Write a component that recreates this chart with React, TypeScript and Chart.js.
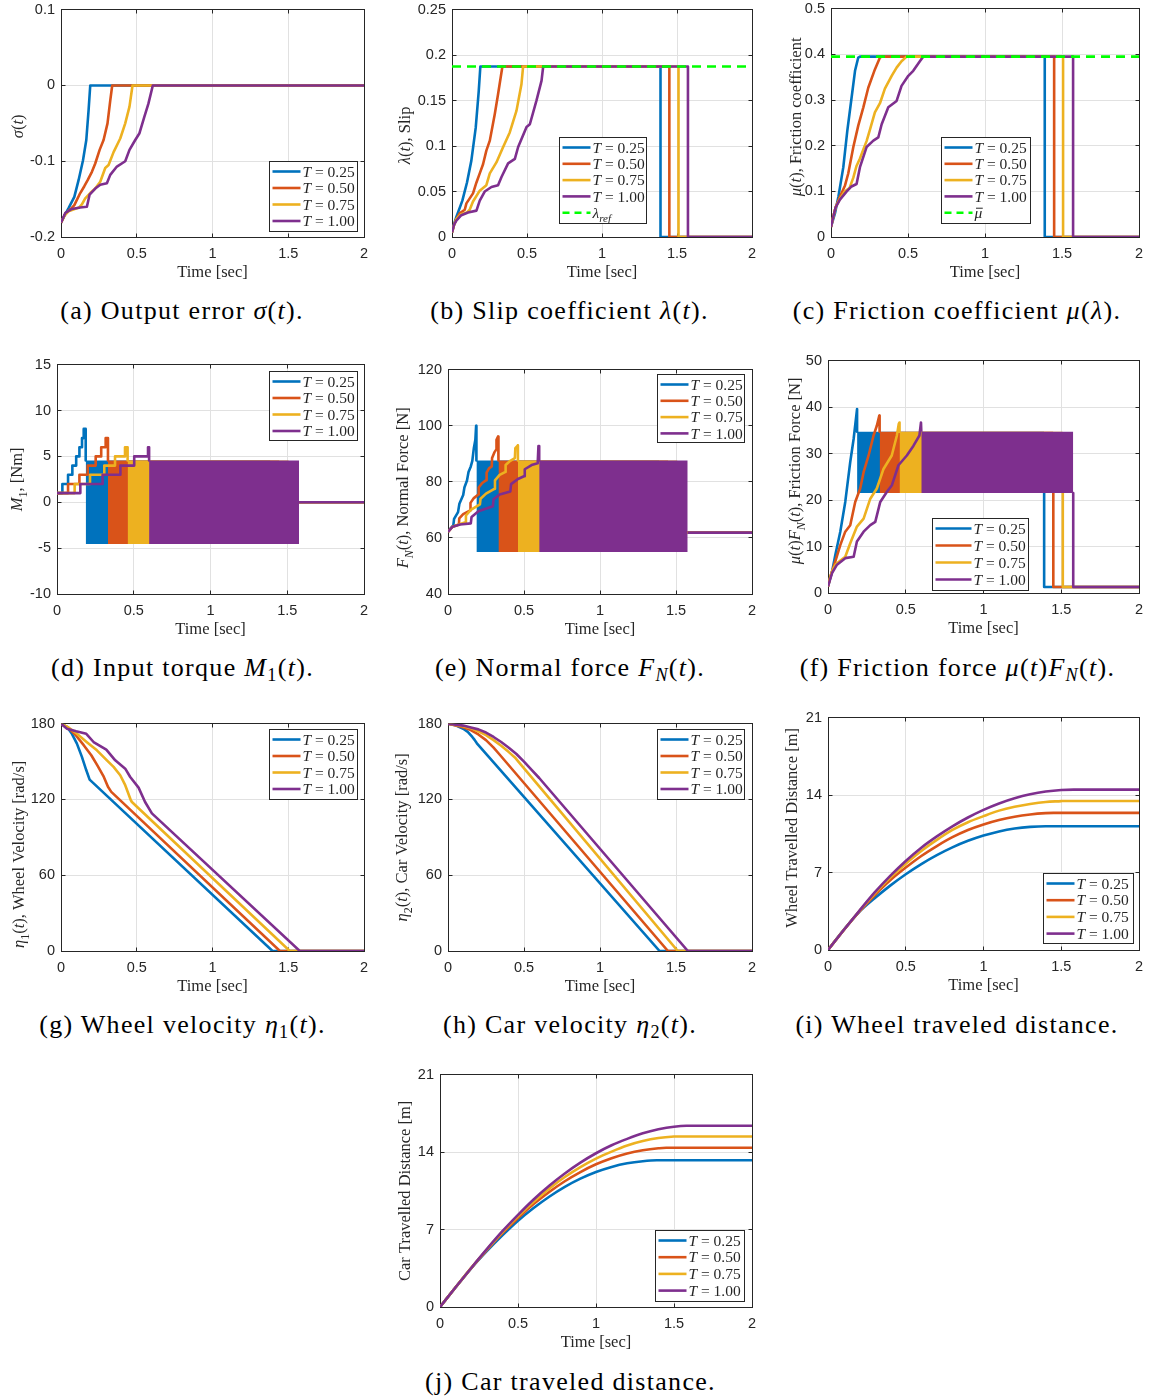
import React, { useEffect, useRef } from "react";
import { Chart, registerables } from "chart.js";

Chart.register(...registerables);

type Pt = [number, number | null];
type Seg = { t: string; it?: boolean; sub?: boolean; bar?: boolean };

// ---- colours -------------------------------------------------------------
const COLORS = ["#0072BD", "#D95319", "#EDB120", "#7E2F8E"];
const REF_COLOR = "#00FF00";
const AXIS_COLOR = "#262626";
const GRID_COLOR = "#E1E1E1";

// ---- shared axis data -----------------------------------------------------
const periodLabels = ["0.25", "0.50", "0.75", "1.00"];
const timeTicks = [0, 0.5, 1, 1.5, 2];
const timeTickLabels = ["0", "0.5", "1", "1.5", "2"];

// ---- (a) output error sigma(t) --------------------------------------------
const sigmaTicks = [-0.2, -0.1, 0, 0.1];
const sigmaTickLabels = ["-0.2", "-0.1", "0", "0.1"];
const sigmaT025: Pt[] = [[0, -0.181], [0.025, -0.171], [0.05, -0.162], [0.088, -0.147], [0.116, -0.125], [0.145, -0.099], [0.167, -0.072], [0.182, -0.033], [0.193, 0], [2, 0]];
const sigmaT050: Pt[] = [[0, -0.181], [0.025, -0.171], [0.05, -0.165], [0.07, -0.162], [0.088, -0.158], [0.127, -0.142], [0.154, -0.133], [0.176, -0.125], [0.204, -0.114], [0.226, -0.103], [0.255, -0.085], [0.281, -0.072], [0.307, -0.05], [0.325, -0.02], [0.338, 0], [2, 0]];
const sigmaT075: Pt[] = [[0, -0.181], [0.025, -0.171], [0.05, -0.166], [0.09, -0.163], [0.12, -0.161], [0.138, -0.157], [0.16, -0.149], [0.193, -0.142], [0.226, -0.136], [0.259, -0.127], [0.292, -0.109], [0.314, -0.105], [0.347, -0.088], [0.391, -0.07], [0.424, -0.05], [0.452, -0.028], [0.472, 0], [2, 0]];
const sigmaT100: Pt[] = [[0, -0.181], [0.029, -0.168], [0.072, -0.163], [0.127, -0.161], [0.171, -0.16], [0.189, -0.144], [0.226, -0.136], [0.259, -0.131], [0.303, -0.129], [0.325, -0.118], [0.369, -0.107], [0.424, -0.1], [0.452, -0.085], [0.49, -0.072], [0.518, -0.063], [0.549, -0.042], [0.577, -0.024], [0.606, 0], [2, 0]];

// ---- (b) slip lambda(t) ----------------------------------------------------
const slipTicks = [0, 0.05, 0.1, 0.15, 0.2, 0.25];
const slipTickLabels = ["0", "0.05", "0.1", "0.15", "0.2", "0.25"];
const slipRef = 0.1875;
const slipT025: Pt[] = [[0, 0.005], [0.015, 0.015], [0.029, 0.022], [0.069, 0.04], [0.1, 0.06], [0.129, 0.084], [0.158, 0.12], [0.178, 0.16], [0.189, 0.1875], [1.39, 0.1875], [1.39, 0], [2, 0]];
const slipT050: Pt[] = [[0, 0.005], [0.015, 0.014], [0.03, 0.02], [0.051, 0.026], [0.085, 0.03], [0.096, 0.037], [0.14, 0.048], [0.163, 0.06], [0.185, 0.07], [0.207, 0.08], [0.229, 0.095], [0.252, 0.106], [0.285, 0.135], [0.307, 0.157], [0.336, 0.1875], [1.449, 0.1875], [1.449, 0], [2, 0]];
const slipT075: Pt[] = [[0, 0.005], [0.015, 0.014], [0.03, 0.02], [0.06, 0.025], [0.1, 0.027], [0.118, 0.03], [0.14, 0.039], [0.185, 0.051], [0.229, 0.057], [0.252, 0.07], [0.296, 0.082], [0.341, 0.099], [0.385, 0.115], [0.43, 0.139], [0.463, 0.168], [0.474, 0.1875], [1.51, 0.1875], [1.51, 0], [2, 0]];
const slipT100: Pt[] = [[0, 0.005], [0.015, 0.014], [0.029, 0.018], [0.062, 0.024], [0.107, 0.027], [0.163, 0.029], [0.185, 0.04], [0.218, 0.05], [0.263, 0.055], [0.307, 0.057], [0.33, 0.066], [0.374, 0.081], [0.419, 0.086], [0.441, 0.099], [0.497, 0.121], [0.519, 0.124], [0.563, 0.15], [0.597, 0.172], [0.608, 0.1875], [1.573, 0.1875], [1.573, 0], [2, 0]];

// ---- (c) friction coefficient mu -------------------------------------------
const muTicks = [0, 0.1, 0.2, 0.3, 0.4, 0.5];
const muTickLabels = ["0", "0.1", "0.2", "0.3", "0.4", "0.5"];
const muBar = 0.395;
const muT025: Pt[] = [[0, 0.022], [0.026, 0.052], [0.048, 0.088], [0.08, 0.153], [0.106, 0.233], [0.134, 0.306], [0.156, 0.364], [0.177, 0.393], [0.188, 0.395], [1.388, 0.395], [1.388, 0], [2, 0]];
const muT050: Pt[] = [[0, 0.022], [0.015, 0.045], [0.03, 0.065], [0.058, 0.088], [0.091, 0.113], [0.112, 0.139], [0.145, 0.197], [0.177, 0.244], [0.21, 0.284], [0.242, 0.327], [0.285, 0.367], [0.318, 0.393], [0.329, 0.395], [1.449, 0.395], [1.449, 0], [2, 0]];
const muT075: Pt[] = [[0, 0.022], [0.015, 0.045], [0.03, 0.065], [0.06, 0.085], [0.09, 0.1], [0.12, 0.107], [0.145, 0.13], [0.165, 0.155], [0.188, 0.172], [0.21, 0.192], [0.231, 0.21], [0.253, 0.235], [0.285, 0.273], [0.318, 0.293], [0.35, 0.325], [0.394, 0.353], [0.426, 0.371], [0.458, 0.385], [0.491, 0.395], [1.507, 0.395], [1.507, 0], [2, 0]];
const muT100: Pt[] = [[0, 0.022], [0.015, 0.045], [0.03, 0.065], [0.058, 0.082], [0.102, 0.1], [0.13, 0.11], [0.166, 0.116], [0.188, 0.153], [0.231, 0.197], [0.275, 0.211], [0.307, 0.218], [0.329, 0.247], [0.372, 0.284], [0.426, 0.298], [0.458, 0.331], [0.502, 0.353], [0.534, 0.364], [0.577, 0.385], [0.599, 0.395], [1.572, 0.395], [1.572, 0], [2, 0]];

// ---- chattering phase (shared by d, e, f) ---------------------------------
const chatterStart = [0.187, 0.332, 0.46, 0.6];
const chatterEnd = [1.39, 1.449, 1.51, 1.577];

// ---- (d) input torque M1 ---------------------------------------------------
const torqueTicks = [-10, -5, 0, 5, 10, 15];
const torqueTickLabels = ["-10", "-5", "0", "5", "10", "15"];
const torqueChatter = [-4.55, 4.55];
const torqueT025: Pt[] = [[0, 1], [0.035, 1], [0.035, 2], [0.072, 2], [0.072, 3], [0.1, 3], [0.1, 4], [0.125, 4], [0.125, 5], [0.146, 5], [0.146, 6], [0.163, 6], [0.163, 7], [0.174, 7], [0.174, 8], [0.187, 8], [0.187, 4.55], [0.19, null], [1.39, 0], [2, 0]];
const torqueT050: Pt[] = [[0, 1], [0.072, 1], [0.072, 2], [0.146, 2], [0.146, 3], [0.2, 3], [0.2, 4], [0.252, 4], [0.252, 5], [0.288, 5], [0.288, 6], [0.317, 6], [0.317, 7], [0.332, 7], [0.332, 4.55], [0.34, null], [1.449, 0], [2, 0]];
const torqueT075: Pt[] = [[0, 1], [0.115, 1], [0.115, 2], [0.215, 2], [0.215, 3], [0.308, 3], [0.308, 4], [0.378, 4], [0.378, 5], [0.443, 5], [0.443, 6], [0.46, 6], [0.46, 4.55], [0.47, null], [1.51, 0], [2, 0]];
const torqueT100: Pt[] = [[0, 1], [0.152, 1], [0.152, 2], [0.297, 2], [0.297, 3], [0.413, 3], [0.413, 4], [0.503, 4], [0.503, 5], [0.593, 5], [0.593, 6], [0.6, 6], [0.6, 4.55], [0.61, null], [1.577, 0], [2, 0]];

// ---- (e) normal force F_N --------------------------------------------------
const normalTicks = [40, 60, 80, 100, 120];
const normalTickLabels = ["40", "60", "80", "100", "120"];
const normalChatter = [55, 87.6];
const normalT025: Pt[] = [[0, 62.2], [0.02, 63.6], [0.035, 64.5], [0.04, 66.8], [0.066, 69.2], [0.075, 72.2], [0.1, 75.3], [0.108, 78], [0.125, 80.5], [0.135, 83.5], [0.15, 85.5], [0.16, 87.5], [0.17, 92], [0.18, 95], [0.185, 100], [0.187, 100], [0.187, 87.6], [0.19, null], [1.39, 61.9], [2, 61.9]];
const normalT050: Pt[] = [[0, 62.2], [0.03, 64], [0.072, 64.8], [0.074, 67], [0.1, 68.5], [0.146, 69.8], [0.148, 72.5], [0.17, 74.2], [0.2, 75.5], [0.202, 78], [0.225, 79.6], [0.252, 80.6], [0.254, 83.3], [0.27, 84.8], [0.288, 85.5], [0.29, 88.5], [0.305, 90.5], [0.317, 91.5], [0.319, 95], [0.33, 96.2], [0.332, 96.2], [0.332, 87.6], [0.34, null], [1.449, 61.9], [2, 61.9]];
const normalT075: Pt[] = [[0, 62.2], [0.03, 64], [0.08, 65], [0.115, 65.6], [0.118, 68], [0.15, 70], [0.21, 72], [0.214, 74], [0.25, 75.8], [0.305, 77.5], [0.309, 80.5], [0.34, 82.5], [0.375, 83.5], [0.379, 86], [0.41, 87.5], [0.44, 88.5], [0.443, 92], [0.46, 93], [0.46, 87.6], [0.47, null], [1.51, 61.9], [2, 61.9]];
const normalT100: Pt[] = [[0, 62.2], [0.03, 64], [0.08, 64.8], [0.15, 65.2], [0.155, 67.5], [0.2, 69.5], [0.295, 71.3], [0.3, 73.8], [0.34, 75.5], [0.41, 76.6], [0.415, 79.2], [0.46, 81], [0.5, 82], [0.505, 84.5], [0.55, 86], [0.59, 86.6], [0.595, 92.8], [0.6, 92.8], [0.6, 87.6], [0.61, null], [1.577, 61.9], [2, 61.9]];

// ---- (f) friction force mu*F_N ---------------------------------------------
const frictionTicks = [0, 10, 20, 30, 40, 50];
const frictionTickLabels = ["0", "10", "20", "30", "40", "50"];
const frictionChatter = [21.5, 34.7];
const frictionT025: Pt[] = [[0, 1.4], [0.026, 4.6], [0.047, 8.2], [0.079, 13.2], [0.111, 19.6], [0.143, 28.2], [0.165, 33.2], [0.182, 38.2], [0.187, 39.6], [0.187, 34.7], [0.19, null], [1.39, 21.5], [1.39, 1.3], [2, 1.3]];
const frictionT050: Pt[] = [[0, 1.4], [0.015, 3.5], [0.03, 5], [0.047, 6.8], [0.079, 10.3], [0.111, 13.2], [0.143, 14.6], [0.175, 19.6], [0.207, 22.5], [0.229, 26], [0.261, 29.6], [0.293, 33.9], [0.314, 36], [0.33, 38.2], [0.332, 34.7], [0.34, null], [1.449, 21.5], [1.449, 1.3], [2, 1.3]];
const frictionT075: Pt[] = [[0, 1.4], [0.015, 3.5], [0.03, 5], [0.05, 6.2], [0.08, 7], [0.111, 7.8], [0.143, 10.7], [0.186, 14.3], [0.229, 16], [0.272, 20.3], [0.314, 22.5], [0.357, 26.7], [0.41, 29.6], [0.443, 33.9], [0.455, 36.4], [0.46, 36.7], [0.46, 34.7], [0.47, null], [1.51, 21.5], [1.51, 1.3], [2, 1.3]];
const frictionT100: Pt[] = [[0, 1.4], [0.026, 4.3], [0.058, 6.1], [0.111, 7.5], [0.165, 7.8], [0.186, 11.1], [0.229, 13.2], [0.272, 14.6], [0.304, 15.3], [0.336, 19.6], [0.379, 21.8], [0.411, 23.2], [0.453, 27.5], [0.507, 29.6], [0.55, 31.7], [0.588, 33.9], [0.598, 36.7], [0.6, 34.7], [0.61, null], [1.577, 21.5], [1.577, 1.3], [2, 1.3]];

// ---- (g) wheel velocity eta1 ----------------------------------------------
const velocityTicks = [0, 60, 120, 180];
const velocityTickLabels = ["0", "60", "120", "180"];
const wheelVelT025: Pt[] = [[0, 180], [0.04, 177.4], [0.072, 172], [0.105, 164.2], [0.138, 153.7], [0.167, 143.1], [0.189, 135.7], [1.396, 0], [2, 0]];
const wheelVelT050: Pt[] = [[0, 180], [0.05, 176.5], [0.1, 170.5], [0.15, 163], [0.2, 155], [0.24, 147], [0.28, 138.5], [0.31, 130], [0.332, 126], [1.445, 0], [2, 0]];
const wheelVelT075: Pt[] = [[0, 180], [0.05, 177], [0.105, 172], [0.171, 165.4], [0.237, 158.9], [0.303, 151], [0.347, 145.8], [0.391, 139.2], [0.424, 131.3], [0.461, 119.4], [0.468, 118], [1.51, 0], [2, 0]];
const wheelVelT100: Pt[] = [[0, 180], [0.04, 176], [0.1, 174], [0.167, 172], [0.215, 165.5], [0.299, 159.5], [0.358, 151], [0.424, 144.4], [0.457, 137.8], [0.512, 129.4], [0.555, 118], [0.6, 109], [1.576, 0], [2, 0]];

// ---- (h) car velocity eta2 ------------------------------------------------
const carVelT025: Pt[] = [[0, 180], [0.05, 178.7], [0.1, 176], [0.13, 173.5], [0.16, 169.5], [0.175, 167.2], [0.19, 164.5], [1.392, 0], [2, 0]];
const carVelT050: Pt[] = [[0, 180], [0.1, 177.2], [0.15, 175], [0.2, 171.5], [0.25, 167], [0.3, 161], [0.335, 156.2], [1.447, 0], [2, 0]];
const carVelT075: Pt[] = [[0, 180], [0.1, 178], [0.15, 176.5], [0.2, 174], [0.25, 171], [0.3, 167], [0.35, 162.5], [0.4, 157.5], [0.44, 153.3], [0.47, 149], [1.512, 0], [2, 0]];
const carVelT100: Pt[] = [[0, 180], [0.1, 178.5], [0.15, 177], [0.2, 175.5], [0.25, 173], [0.3, 169.5], [0.35, 165.5], [0.4, 161], [0.45, 156], [0.5, 150], [0.55, 143.5], [0.6, 137], [1.578, 0], [2, 0]];

// ---- (i) wheel travelled distance -----------------------------------------
const distanceTicks = [0, 7, 14, 21];
const distanceTickLabels = ["0", "7", "14", "21"];
const wheelDistT025: Pt[] = [[0, 0], [0.1, 1.8], [0.2, 3.43], [0.3, 4.68], [0.4, 5.82], [0.5, 6.85], [0.6, 7.77], [0.7, 8.58], [0.8, 9.28], [0.9, 9.87], [1.0, 10.35], [1.1, 10.72], [1.2, 10.98], [1.3, 11.13], [1.4, 11.19], [2, 11.19]];
const wheelDistT050: Pt[] = [[0, 0], [0.1, 1.78], [0.2, 3.45], [0.3, 4.95], [0.4, 6.3], [0.5, 7.45], [0.6, 8.5], [0.7, 9.4], [0.8, 10.2], [0.9, 10.85], [1.0, 11.35], [1.1, 11.75], [1.2, 12.05], [1.3, 12.25], [1.4, 12.37], [1.45, 12.4], [2, 12.4]];
const wheelDistT075: Pt[] = [[0, 0], [0.1, 1.78], [0.2, 3.5], [0.3, 5.1], [0.4, 6.55], [0.5, 7.8], [0.6, 8.95], [0.7, 9.95], [0.8, 10.85], [0.9, 11.55], [1.0, 12.1], [1.1, 12.6], [1.2, 12.95], [1.3, 13.2], [1.4, 13.38], [1.5, 13.46], [1.51, 13.47], [2, 13.47]];
const wheelDistT100: Pt[] = [[0, 0], [0.1, 1.78], [0.2, 3.52], [0.3, 5.2], [0.4, 6.7], [0.5, 8.05], [0.6, 9.25], [0.7, 10.27], [0.8, 11.18], [0.9, 11.98], [1.0, 12.67], [1.1, 13.25], [1.2, 13.72], [1.3, 14.08], [1.4, 14.33], [1.5, 14.47], [1.58, 14.5], [2, 14.5]];

// ---- (j) car travelled distance -------------------------------------------
const carDistT025: Pt[] = [[0, 0], [0.1, 1.78], [0.2, 3.5], [0.3, 5.05], [0.4, 6.48], [0.5, 7.8], [0.6, 8.95], [0.7, 9.97], [0.8, 10.86], [0.9, 11.6], [1.0, 12.2], [1.1, 12.66], [1.2, 12.99], [1.3, 13.18], [1.39, 13.26], [2, 13.26]];
const carDistT050: Pt[] = [[0, 0], [0.1, 1.78], [0.2, 3.52], [0.3, 5.15], [0.4, 6.67], [0.5, 8.05], [0.6, 9.3], [0.7, 10.4], [0.8, 11.37], [0.9, 12.2], [1.0, 12.9], [1.1, 13.45], [1.2, 13.88], [1.3, 14.17], [1.4, 14.35], [1.45, 14.4], [2, 14.4]];
const carDistT075: Pt[] = [[0, 0], [0.1, 1.78], [0.2, 3.53], [0.3, 5.2], [0.4, 6.78], [0.5, 8.2], [0.6, 9.52], [0.7, 10.7], [0.8, 11.75], [0.9, 12.65], [1.0, 13.42], [1.1, 14.05], [1.2, 14.6], [1.3, 15.0], [1.4, 15.27], [1.5, 15.41], [1.52, 15.42], [2, 15.42]];
const carDistT100: Pt[] = [[0, 0], [0.1, 1.78], [0.2, 3.53], [0.3, 5.23], [0.4, 6.85], [0.5, 8.33], [0.6, 9.72], [0.7, 10.96], [0.8, 12.07], [0.9, 13.05], [1.0, 13.9], [1.1, 14.62], [1.2, 15.2], [1.3, 15.7], [1.4, 16.06], [1.5, 16.3], [1.58, 16.38], [2, 16.38]];

// ---- layout ---------------------------------------------------------------
const SERIF = "'Liberation Serif', 'Times New Roman', serif";
const SANS = "'Liberation Sans', Arial, sans-serif";
const LINE_W = 2.6;
const PAD_TOP = 14;
const PAD_RIGHT = 14;
const X_AXIS_H = 50;
const TITLE_SIZE = 16.5;
const LEGEND_SIZE = 15.5;

interface LegendBox { x: number; y: number; w: number; h: number; line: number; row: number }
interface PanelSpec {
  key: string;
  plot: [number, number, number, number];
  yTicks: number[];
  yTickLabels: string[];
  yTitle: Seg[];
  titleX: number;
  titleShift: number;
  series: Pt[][];
  chatter?: { start: number[]; end: number[]; levels: number[] };
  reference?: { value: number; label: Seg[] };
  legend: LegendBox;
  smooth?: boolean;
  caption: { x: number; y: number; content: React.ReactNode };
}

const I = (s: string) => <i>{s}</i>;
const Sub = ({ children }: { children: React.ReactNode }) => (
  <sub style={{ fontSize: "70%", verticalAlign: "-0.3em", lineHeight: 0 }}>{children}</sub>
);

const panels: PanelSpec[] = [
  {
    key: "a", plot: [61, 9, 364, 237], yTicks: sigmaTicks, yTickLabels: sigmaTickLabels,
    yTitle: [{ t: "σ", it: true }, { t: "(" }, { t: "t", it: true }, { t: ")" }], titleX: 18, titleShift: 3,
    series: [sigmaT025, sigmaT050, sigmaT075, sigmaT100],
    legend: { x: 269, y: 161, w: 88, h: 70, line: 28, row: 16.5 },
    caption: { x: 182, y: 311, content: <>(a) Output error {I("σ")}({I("t")}).</> },
  },
  {
    key: "b", plot: [452, 9, 752, 237], yTicks: slipTicks, yTickLabels: slipTickLabels,
    yTitle: [{ t: "λ", it: true }, { t: "(" }, { t: "t", it: true }, { t: "), Slip" }], titleX: 405, titleShift: 12,
    series: [slipT025, slipT050, slipT075, slipT100],
    reference: { value: slipRef, label: [{ t: "λ", it: true }, { t: "ref", it: true, sub: true }] },
    legend: { x: 559, y: 137, w: 87, h: 86, line: 28, row: 16.3 },
    caption: { x: 569.5, y: 311, content: <>(b) Slip coefficient {I("λ")}({I("t")}).</> },
  },
  {
    key: "c", plot: [831, 8, 1139, 237], yTicks: muTicks, yTickLabels: muTickLabels,
    yTitle: [{ t: "μ", it: true }, { t: "(" }, { t: "t", it: true }, { t: "), Friction coefficient" }], titleX: 796, titleShift: -6,
    series: [muT025, muT050, muT075, muT100],
    reference: { value: muBar, label: [{ t: "μ", it: true, bar: true }] },
    legend: { x: 941, y: 137, w: 89, h: 86, line: 28, row: 16.3 },
    caption: { x: 957, y: 311, content: <>(c) Friction coefficient {I("μ")}({I("λ")}).</> },
  },
  {
    key: "d", plot: [57, 364, 364, 594], yTicks: torqueTicks, yTickLabels: torqueTickLabels,
    yTitle: [{ t: "M", it: true }, { t: "1", sub: true }, { t: ", [Nm]" }], titleX: 17, titleShift: 0,
    series: [torqueT025, torqueT050, torqueT075, torqueT100],
    chatter: { start: chatterStart, end: chatterEnd, levels: torqueChatter },
    legend: { x: 269, y: 371, w: 88, h: 69, line: 28, row: 16.5 },
    caption: { x: 182.5, y: 668, content: <>(d) Input torque {I("M")}<Sub>1</Sub>({I("t")}).</> },
  },
  {
    key: "e", plot: [448, 369, 752, 594], yTicks: normalTicks, yTickLabels: normalTickLabels,
    yTitle: [{ t: "F", it: true }, { t: "N", it: true, sub: true }, { t: "(" }, { t: "t", it: true }, { t: "), Normal Force [N]" }], titleX: 403, titleShift: 6,
    series: [normalT025, normalT050, normalT075, normalT100],
    chatter: { start: chatterStart, end: chatterEnd, levels: normalChatter },
    legend: { x: 657, y: 374, w: 87, h: 68, line: 28, row: 16.3 },
    caption: { x: 570, y: 668, content: <>(e) Normal force {I("F")}<Sub>{I("N")}</Sub>({I("t")}).</> },
  },
  {
    key: "f", plot: [828, 360, 1139, 593], yTicks: frictionTicks, yTickLabels: frictionTickLabels,
    yTitle: [{ t: "μ", it: true }, { t: "(" }, { t: "t", it: true }, { t: ")" }, { t: "F", it: true }, { t: "N", it: true, sub: true }, { t: "(" }, { t: "t", it: true }, { t: "), Friction Force [N]" }], titleX: 795, titleShift: -6,
    series: [frictionT025, frictionT050, frictionT075, frictionT100],
    chatter: { start: chatterStart, end: chatterEnd, levels: frictionChatter },
    legend: { x: 932, y: 518, w: 96, h: 72, line: 36, row: 17 },
    caption: { x: 957.5, y: 668, content: <>(f) Friction force {I("μ")}({I("t")}){I("F")}<Sub>{I("N")}</Sub>({I("t")}).</> },
  },
  {
    key: "g", plot: [61, 723, 364, 951], yTicks: velocityTicks, yTickLabels: velocityTickLabels,
    yTitle: [{ t: "η", it: true }, { t: "1", sub: true }, { t: "(" }, { t: "t", it: true }, { t: "), Wheel Velocity [rad/s]" }], titleX: 19, titleShift: 17,
    series: [wheelVelT025, wheelVelT050, wheelVelT075, wheelVelT100],
    legend: { x: 269, y: 729, w: 88, h: 70, line: 28, row: 16.5 },
    caption: { x: 182.5, y: 1025, content: <>(g) Wheel velocity {I("η")}<Sub>1</Sub>({I("t")}).</> },
  },
  {
    key: "h", plot: [448, 723, 752, 951], yTicks: velocityTicks, yTickLabels: velocityTickLabels,
    yTitle: [{ t: "η", it: true }, { t: "2", sub: true }, { t: "(" }, { t: "t", it: true }, { t: "), Car Velocity [rad/s]" }], titleX: 402, titleShift: 0,
    series: [carVelT025, carVelT050, carVelT075, carVelT100],
    legend: { x: 657, y: 729, w: 87, h: 70, line: 28, row: 16.5 },
    caption: { x: 570, y: 1025, content: <>(h) Car velocity {I("η")}<Sub>2</Sub>({I("t")}).</> },
  },
  {
    key: "i", plot: [828, 717, 1139, 950], yTicks: distanceTicks, yTickLabels: distanceTickLabels,
    yTitle: [{ t: "Wheel Travelled Distance [m]" }], titleX: 792, titleShift: -6,
    series: [wheelDistT025, wheelDistT050, wheelDistT075, wheelDistT100], smooth: true,
    legend: { x: 1043, y: 873, w: 90, h: 70, line: 28, row: 16.7 },
    caption: { x: 957, y: 1025, content: <>(i) Wheel traveled distance.</> },
  },
  {
    key: "j", plot: [440, 1074, 752, 1307], yTicks: distanceTicks, yTickLabels: distanceTickLabels,
    yTitle: [{ t: "Car Travelled Distance [m]" }], titleX: 405, titleShift: 0,
    series: [carDistT025, carDistT050, carDistT075, carDistT100], smooth: true,
    legend: { x: 655, y: 1230, w: 89, h: 71, line: 28, row: 16.7 },
    caption: { x: 570.5, y: 1382, content: <>(j) Car traveled distance.</> },
  },
];

// Draws a run of mixed upright / italic / subscript text centred on (cx, cy).
function drawRich(
  ctx: CanvasRenderingContext2D, segs: Seg[], cx: number, cy: number,
  size: number, rot: number, align: "center" | "left" = "center",
) {
  const fontOf = (s: Seg) => `${s.it ? "italic " : ""}${s.sub ? Math.round(size * 0.7) : size}px ${SERIF}`;
  const widths = segs.map((s) => { ctx.font = fontOf(s); return ctx.measureText(s.t).width; });
  const total = widths.reduce((a, b) => a + b, 0);
  ctx.save();
  ctx.translate(cx, cy);
  ctx.rotate(rot);
  ctx.textAlign = "left";
  ctx.textBaseline = "alphabetic";
  ctx.fillStyle = AXIS_COLOR;
  const base = size * 0.33;
  let x = align === "center" ? -total / 2 : 0;
  segs.forEach((s, i) => {
    ctx.font = fontOf(s);
    ctx.fillText(s.t, x, base + (s.sub ? size * 0.28 : 0));
    if (s.bar) {
      ctx.beginPath();
      ctx.lineWidth = 1;
      ctx.strokeStyle = AXIS_COLOR;
      const yb = base - size * 0.62;
      ctx.moveTo(x + 1.5, yb);
      ctx.lineTo(x + widths[i] + 0.5, yb);
      ctx.stroke();
    }
    x += widths[i];
  });
  ctx.restore();
}

function PanelChart({ p }: { p: PanelSpec }) {
  const ref = useRef<HTMLCanvasElement | null>(null);
  const [L, T, R, B] = p.plot;
  const cLeft = Math.round(p.titleX - 14);
  const cTop = T - PAD_TOP;
  const cW = R + PAD_RIGHT - cLeft;
  const cH = B + X_AXIS_H - cTop;

  useEffect(() => {
    const canvas = ref.current;
    if (!canvas) return;
    const yAxisW = L - cLeft;
    const datasets: any[] = [];
    p.series.forEach((pts, k) => {
      const order = 10 - 2 * k;
      if (p.chatter) {
        const [lo, hi] = p.chatter.levels;
        datasets.push({
          data: [{ x: p.chatter.start[k], y: hi }, { x: p.chatter.end[k], y: hi }],
          fill: { value: lo }, backgroundColor: COLORS[k], borderColor: COLORS[k],
          borderWidth: 0, pointRadius: 0, order: order + 1,
        });
      }
      datasets.push({
        data: pts.map(([x, y]) => ({ x, y })),
        borderColor: COLORS[k], borderWidth: LINE_W, fill: false, pointRadius: 0,
        tension: 0, cubicInterpolationMode: p.smooth ? "monotone" : "default",
        borderJoinStyle: "round", order,
      });
    });
    if (p.reference) {
      datasets.push({
        data: [{ x: 0, y: p.reference.value }, { x: 2, y: p.reference.value }],
        borderColor: REF_COLOR, borderDash: [9, 6], borderWidth: LINE_W,
        pointRadius: 0, fill: false, order: 0,
      });
    }

    const align = (v: number) => Math.round(v - 0.5) + 0.5;
    const deco = {
      id: "deco",
      beforeDatasetsDraw(chart: any) {
        const { ctx, chartArea: a, scales } = chart;
        const l = align(a.left), t = align(a.top), r = align(a.right), b = align(a.bottom);
        ctx.save();
        ctx.strokeStyle = AXIS_COLOR;
        ctx.lineWidth = 1;
        ctx.strokeRect(l, t, r - l, b - t);
        ctx.beginPath();
        timeTicks.forEach((v) => {
          const px = align(scales.x.getPixelForValue(v));
          ctx.moveTo(px, b); ctx.lineTo(px, b - 4);
          ctx.moveTo(px, t); ctx.lineTo(px, t + 4);
        });
        p.yTicks.forEach((v) => {
          const py = align(scales.y.getPixelForValue(v));
          ctx.moveTo(l, py); ctx.lineTo(l + 4, py);
          ctx.moveTo(r, py); ctx.lineTo(r - 4, py);
        });
        ctx.stroke();
        ctx.restore();
      },
      afterDraw(chart: any) {
        const { ctx, chartArea: a } = chart;
        // axis titles
        drawRich(ctx, p.yTitle, p.titleX - cLeft, (a.top + a.bottom) / 2 + p.titleShift, TITLE_SIZE, -Math.PI / 2);
        drawRich(ctx, [{ t: "Time [sec]" }], (a.left + a.right) / 2, a.bottom + 35, TITLE_SIZE, 0);
        // legend
        const lg = p.legend;
        const bx = Math.round(lg.x - cLeft) + 0.5;
        const by = Math.round(lg.y - cTop) + 0.5;
        ctx.save();
        ctx.fillStyle = "#ffffff";
        ctx.fillRect(bx, by, lg.w, lg.h);
        ctx.strokeStyle = AXIS_COLOR;
        ctx.lineWidth = 1;
        ctx.strokeRect(bx, by, lg.w, lg.h);
        const entries: { color: string; dash: number[]; label: Seg[] }[] = periodLabels.map((lab, k) => ({
          color: COLORS[k], dash: [], label: [{ t: "T", it: true }, { t: " = " + lab }],
        }));
        if (p.reference) entries.push({ color: REF_COLOR, dash: [7, 5], label: p.reference.label });
        entries.forEach((e, i) => {
          const y = by + 10 + i * lg.row;
          ctx.beginPath();
          ctx.strokeStyle = e.color;
          ctx.lineWidth = LINE_W;
          ctx.setLineDash(e.dash);
          ctx.moveTo(bx + 3, y);
          ctx.lineTo(bx + 3 + lg.line, y);
          ctx.stroke();
          ctx.setLineDash([]);
          drawRich(ctx, e.label, bx + 3 + lg.line + 2, y, LEGEND_SIZE, 0, "left");
        });
        ctx.restore();
      },
    };

    const tickFont = { family: SANS, size: 14.5 };
    const chart = new Chart(canvas, {
      type: "line",
      data: { datasets },
      options: {
        responsive: false,
        animation: false,
        events: [],
        layout: { padding: { left: 0, top: PAD_TOP, right: PAD_RIGHT, bottom: 0 } },
        plugins: { legend: { display: false }, tooltip: { enabled: false } },
        scales: {
          x: {
            type: "linear", min: 0, max: 2,
            afterBuildTicks: (s: any) => { s.ticks = timeTicks.map((v) => ({ value: v })); },
            afterFit: (s: any) => { s.height = X_AXIS_H; },
            ticks: {
              callback: (v: any) => timeTickLabels[timeTicks.indexOf(Number(v))] ?? "",
              font: tickFont, color: AXIS_COLOR, padding: 8, maxRotation: 0, autoSkip: false,
            },
            grid: { color: GRID_COLOR, lineWidth: 1, drawTicks: false },
            border: { display: false },
          },
          y: {
            type: "linear", min: p.yTicks[0], max: p.yTicks[p.yTicks.length - 1],
            afterBuildTicks: (s: any) => { s.ticks = p.yTicks.map((v) => ({ value: v })); },
            afterFit: (s: any) => { s.width = yAxisW; },
            ticks: {
              callback: (v: any) => p.yTickLabels[p.yTicks.indexOf(Number(v))] ?? "",
              font: tickFont, color: AXIS_COLOR, padding: 6, autoSkip: false,
            },
            grid: { color: GRID_COLOR, lineWidth: 1, drawTicks: false },
            border: { display: false },
          },
        },
      } as any,
      plugins: [deco],
    });
    return () => chart.destroy();
  }, [p]);

  return (
    <canvas
      ref={ref}
      width={cW}
      height={cH}
      style={{ position: "absolute", left: cLeft, top: cTop, width: cW, height: cH }}
    />
  );
}

export default function App() {
  return (
    <div style={{ position: "absolute", left: 0, top: 0, width: 1151, height: 1399, background: "#ffffff", overflow: "hidden" }}>
      {panels.map((p) => (
        <PanelChart key={p.key} p={p} />
      ))}
      {panels.map((p) => (
        <div
          key={"cap-" + p.key}
          style={{
            position: "absolute", left: p.caption.x - 250, top: p.caption.y - 16, width: 500,
            height: 32, lineHeight: "32px", textAlign: "center", whiteSpace: "nowrap",
            fontFamily: SERIF, fontSize: 26, letterSpacing: 1.3, color: "#000",
          }}
        >
          {p.caption.content}
        </div>
      ))}
    </div>
  );
}
